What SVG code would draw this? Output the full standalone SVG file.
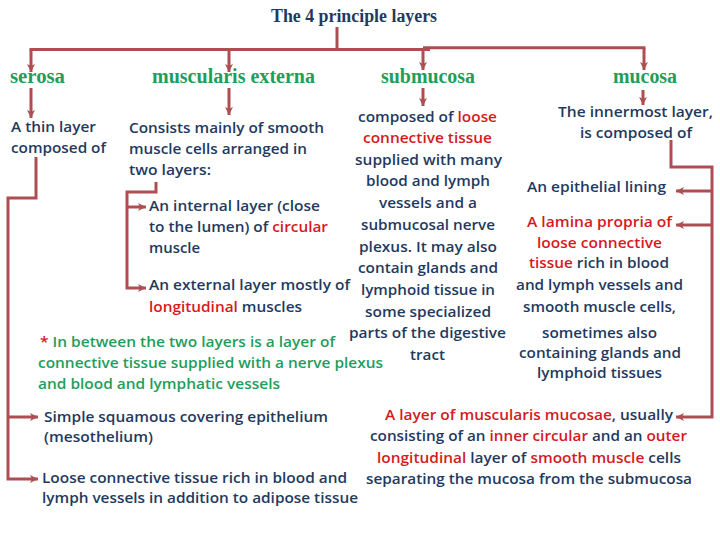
<svg xmlns="http://www.w3.org/2000/svg" width="720" height="540" viewBox="0 0 720 540">
<defs>
<marker id="ah" markerUnits="userSpaceOnUse" markerWidth="10" markerHeight="10" refX="8" refY="4" orient="auto">
<path d="M0,0 L8,4 L0,8 L2,4 Z" fill="#ad4f52"/>
</marker>
<style>
.c{fill:none;stroke:#ad4f52;stroke-width:3}
.a{marker-end:url(#ah)}
.t{font-family:"Liberation Serif","Times New Roman",serif;font-weight:bold;font-size:18px;fill:#1f3a5f}
.l{font-family:"Liberation Serif","Times New Roman",serif;font-weight:bold;font-size:20px;fill:#1f9d5b}
.b{font-family:"Open Sans","Liberation Sans",sans-serif;font-weight:600;font-size:14.5px;fill:#1f3a5f}
.r{fill:#d41a1f}
.g{fill:#1f9d5b}
</style>
</defs>
<rect width="720" height="540" fill="#ffffff"/>
<g id="connectors">
<path class="c" d="M337,27 V49.5"/>
<path class="c" d="M29.5,49.5 H430"/>
<path class="c" d="M423,47.8 H645.5"/>
<path class="c a" d="M31,49.5 V72"/>
<path class="c a" d="M229,49.5 V72"/>
<path class="c a" d="M423,48 V70"/>
<path class="c a" d="M644,47.8 V70"/>
<path class="c a" d="M31,88 V118"/>
<path class="c a" d="M229,88 V115"/>
<path class="c a" d="M423,88 V106"/>
<path class="c a" d="M643,90 V105"/>
<path class="c a" d="M36,157 V198 H8 V479 H38"/>
<path class="c a" d="M8,417 H38"/>
<path class="c a" d="M156,182 V192 H127 V288 H146"/>
<path class="c a" d="M127,207 H146"/>
<path class="c a" d="M671,140 V167 H712 V417 H676"/>
<path class="c a" d="M712,191 H676"/>
<path class="c a" d="M712,225 H676"/>
</g>
<g id="title"><text class="t" x="271" y="21.5" textLength="166" lengthAdjust="spacingAndGlyphs">The 4 principle layers</text></g>
<g id="serosa">
<text class="l" x="10" y="83" textLength="55" lengthAdjust="spacingAndGlyphs">serosa</text>
<text class="b" x="11" y="132" textLength="85" lengthAdjust="spacingAndGlyphs">A thin layer</text>
<text class="b" x="11" y="153" textLength="95" lengthAdjust="spacingAndGlyphs">composed of</text>
</g>
<g id="serosa-items">
<text class="b" x="44" y="422" textLength="284" lengthAdjust="spacingAndGlyphs">Simple squamous covering epithelium</text>
<text class="b" x="44" y="442" textLength="109" lengthAdjust="spacingAndGlyphs">(mesothelium)</text>
<text class="b" x="42" y="483" textLength="305" lengthAdjust="spacingAndGlyphs">Loose connective tissue rich in blood and</text>
<text class="b" x="42" y="503" textLength="316" lengthAdjust="spacingAndGlyphs">lymph vessels in addition to adipose tissue</text>
</g>
<g id="muscularis">
<text class="l" x="152" y="83" textLength="163" lengthAdjust="spacingAndGlyphs">muscularis externa</text>
<text class="b" x="129" y="133" textLength="195" lengthAdjust="spacingAndGlyphs">Consists mainly of smooth</text>
<text class="b" x="129" y="154" textLength="178" lengthAdjust="spacingAndGlyphs">muscle cells arranged in</text>
<text class="b" x="129" y="175" textLength="82" lengthAdjust="spacingAndGlyphs">two layers:</text>
</g>
<g id="muscularis-items">
<text class="b" x="149" y="211" textLength="171" lengthAdjust="spacingAndGlyphs">An internal layer (close</text>
<text class="b" x="149" y="232" textLength="179" lengthAdjust="spacingAndGlyphs">to the lumen) of <tspan class="r">circular</tspan></text>
<text class="b" x="149" y="253" textLength="51" lengthAdjust="spacingAndGlyphs">muscle</text>
<text class="b" x="149" y="290" textLength="201" lengthAdjust="spacingAndGlyphs">An external layer mostly of</text>
<text class="b" x="149" y="312" textLength="153" lengthAdjust="spacingAndGlyphs"><tspan class="r">longitudinal</tspan> muscles</text>
</g>
<g id="note">
<text class="b g" x="40" y="347" textLength="295" lengthAdjust="spacingAndGlyphs"><tspan class="r">* </tspan>In between the two layers is a layer of</text>
<text class="b g" x="38" y="368" textLength="345" lengthAdjust="spacingAndGlyphs">connective tissue supplied with a nerve plexus</text>
<text class="b g" x="38" y="389" textLength="242" lengthAdjust="spacingAndGlyphs">and blood and lymphatic vessels</text>
</g>
<g id="submucosa">
<text class="l" x="381" y="83" textLength="94" lengthAdjust="spacingAndGlyphs">submucosa</text>
<text class="b" x="358" y="122" textLength="139" lengthAdjust="spacingAndGlyphs">composed of <tspan class="r">loose</tspan></text>
<text class="b r" x="363" y="143" textLength="129" lengthAdjust="spacingAndGlyphs">connective tissue</text>
<text class="b" x="355" y="165" textLength="147" lengthAdjust="spacingAndGlyphs">supplied with many</text>
<text class="b" x="366" y="186" textLength="124" lengthAdjust="spacingAndGlyphs">blood and lymph</text>
<text class="b" x="379" y="208" textLength="98" lengthAdjust="spacingAndGlyphs">vessels and a</text>
<text class="b" x="361" y="230" textLength="134" lengthAdjust="spacingAndGlyphs">submucosal nerve</text>
<text class="b" x="359" y="252" textLength="138" lengthAdjust="spacingAndGlyphs">plexus. It may also</text>
<text class="b" x="358" y="273" textLength="140" lengthAdjust="spacingAndGlyphs">contain glands and</text>
<text class="b" x="361" y="295" textLength="134" lengthAdjust="spacingAndGlyphs">lymphoid tissue in</text>
<text class="b" x="365" y="317" textLength="126" lengthAdjust="spacingAndGlyphs">some specialized</text>
<text class="b" x="349" y="338" textLength="157" lengthAdjust="spacingAndGlyphs">parts of the digestive</text>
<text class="b" x="410" y="360" textLength="35" lengthAdjust="spacingAndGlyphs">tract</text>
</g>
<g id="mucosa">
<text class="l" x="613" y="83" textLength="64" lengthAdjust="spacingAndGlyphs">mucosa</text>
<text class="b" x="558" y="117" textLength="155" lengthAdjust="spacingAndGlyphs">The innermost layer,</text>
<text class="b" x="580" y="138" textLength="112" lengthAdjust="spacingAndGlyphs">is composed of</text>
</g>
<g id="mucosa-epithelium">
<text class="b" x="527" y="192" textLength="139" lengthAdjust="spacingAndGlyphs">An epithelial lining</text>
</g>
<g id="mucosa-lamina">
<text class="b r" x="527" y="227" textLength="145" lengthAdjust="spacingAndGlyphs">A lamina propria of</text>
<text class="b r" x="537" y="248" textLength="125" lengthAdjust="spacingAndGlyphs">loose connective</text>
<text class="b" x="529" y="268" textLength="140" lengthAdjust="spacingAndGlyphs"><tspan class="r">tissue</tspan> rich in blood</text>
<text class="b" x="516" y="290" textLength="167" lengthAdjust="spacingAndGlyphs">and lymph vessels and</text>
<text class="b" x="523" y="312" textLength="153" lengthAdjust="spacingAndGlyphs">smooth muscle cells,</text>
<text class="b" x="542" y="338" textLength="115" lengthAdjust="spacingAndGlyphs">sometimes also</text>
<text class="b" x="519" y="358" textLength="162" lengthAdjust="spacingAndGlyphs">containing glands and</text>
<text class="b" x="537" y="378" textLength="125" lengthAdjust="spacingAndGlyphs">lymphoid tissues</text>
</g>
<g id="mucosa-muscularis">
<text class="b" x="385" y="420" textLength="288" lengthAdjust="spacingAndGlyphs"><tspan class="r">A layer of muscularis mucosae</tspan>, usually</text>
<text class="b" x="370" y="441" textLength="317" lengthAdjust="spacingAndGlyphs">consisting of an <tspan class="r">inner circular</tspan> and an <tspan class="r">outer</tspan></text>
<text class="b" x="377" y="463" textLength="304" lengthAdjust="spacingAndGlyphs"><tspan class="r">longitudinal</tspan> layer of <tspan class="r">smooth muscle</tspan> cells</text>
<text class="b" x="366" y="484" textLength="326" lengthAdjust="spacingAndGlyphs">separating the mucosa from the submucosa</text>
</g>
</svg>
